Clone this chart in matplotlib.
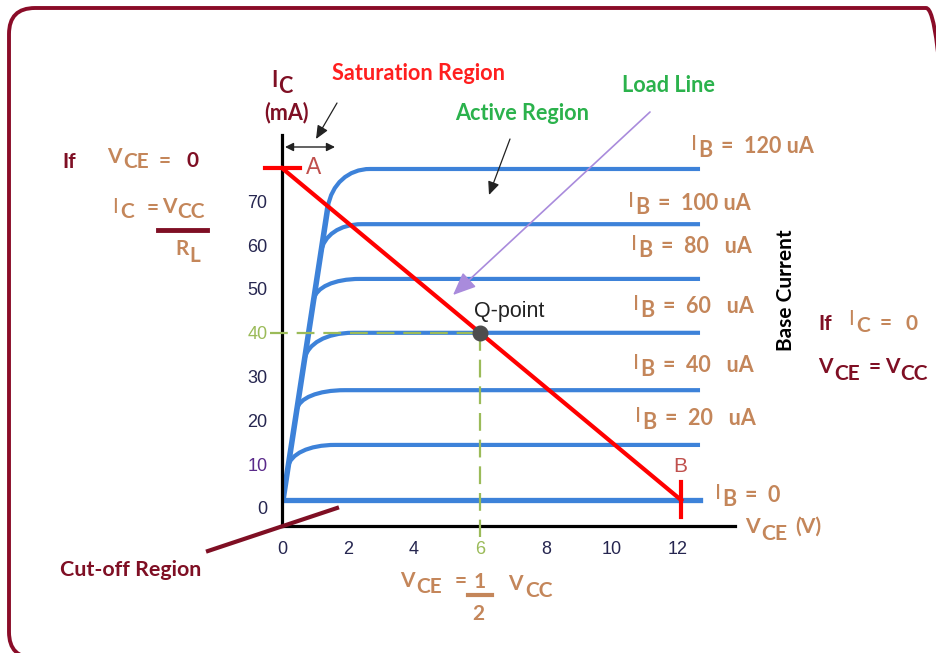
import matplotlib
matplotlib.use("Agg")
import matplotlib.pyplot as plt
from matplotlib.path import Path
from matplotlib.patches import PathPatch, FancyBboxPatch, FancyArrowPatch
from matplotlib.lines import Line2D
from matplotlib.transforms import IdentityTransform

W, H = 937, 653

# values (V in volts, I in mA)
vce_ticks = [0, 2, 4, 6, 8, 10, 12]
ic_ticks = [0, 10, 20, 30, 40, 50, 60, 70]
ib_values = ["120 uA", "100 uA", "80   uA", "60   uA", "40   uA", "20   uA"]
ib_levels = [77.4, 64.8, 52.3, 40.0, 26.9, 14.4]
knee_start_v = [1.39, 1.18, 0.96, 0.68, 0.45, 0.18]
knee_start_i = [68.7, 58.4, 47.5, 33.8, 22.4, 9.3]
knee_v = [1.57, 1.31, 1.06, 0.81, 0.54, 0.29]
flat_start_v = [2.67, 2.42, 2.36, 2.15, 1.91, 1.61]
curve_end_v = 12.67
cutoff_i = 1.8
sat_v = [0.03, 1.39]
sat_i = [1.8, 68.7]
load_v = [0, 12.1]
load_i = [77.6, 1.8]
q_v, q_i = 6, 40

BLUE = "#3d82d9"
MAROON = "#7f0f24"
TAN = "#c4865a"
GREEN = "#2bb24c"
DASH_GREEN = "#9bbb59"
LABEL_FONT = ["Lato", "DejaVu Sans"]
ARIAL = ["Liberation Sans", "DejaVu Sans"]

fig = plt.figure(figsize=(W / 100, H / 100), dpi=100)
R = fig.canvas.get_renderer()


def F(x, y):
    return (x / W, 1 - y / H)


# rounded frame
fig.add_artist(FancyBboxPatch((9, H - 658), 943, 650,
                              boxstyle="round,pad=0,rounding_size=26",
                              transform=IdentityTransform(), fill=False,
                              ec="#8a0c28", lw=2.8))

ax = fig.add_axes([282 / W, 1 - 526 / H, (735 - 282) / W, (526 - 135) / H])
ax.set_xlim(0, 13.73)
ax.set_ylim(-4.11, 85.16)
for s in ["top", "right"]:
    ax.spines[s].set_visible(False)
for s in ["left", "bottom"]:
    ax.spines[s].set_linewidth(2.3)
    ax.spines[s].set_color("black")
ax.set_xticks(vce_ticks)
ax.set_yticks(ic_ticks)
ax.tick_params(length=0, labelsize=13, pad=10.5)
for t in ax.get_xticklabels() + ax.get_yticklabels():
    t.set_family(ARIAL)
    t.set_color("#262650")
ax.get_xticklabels()[3].set_color(DASH_GREEN)
ax.get_yticklabels()[4].set_color(DASH_GREEN)
ax.get_yticklabels()[1].set_color("#5a2a8a")

# characteristic curves: steep rise, rounded knee, flat part
ax.plot(sat_v, sat_i, color=BLUE, lw=4, solid_capstyle="round")
ax.plot([0, curve_end_v], [cutoff_i, cutoff_i], color=BLUE, lw=3.8)
for lvl, sv, si, kv, fv in zip(ib_levels, knee_start_v, knee_start_i, knee_v, flat_start_v):
    c1 = (sv + 0.6 * (kv - sv), si + 0.6 * (lvl - si))
    c2 = (fv + 0.6 * (kv - fv), lvl)
    verts = [(sv, si), c1, c2, (fv, lvl), (curve_end_v, lvl)]
    codes = [Path.MOVETO, Path.CURVE4, Path.CURVE4, Path.CURVE4, Path.LINETO]
    ax.add_patch(PathPatch(Path(verts, codes), fill=False, ec=BLUE, lw=3))

# Q-point guides
ax.plot([-0.36, q_v], [q_i, q_i], color=DASH_GREEN, lw=1.6, dashes=(8, 4), clip_on=False, zorder=3)
ax.plot([q_v, q_v], [q_i, -6.6], color=DASH_GREEN, lw=1.6, dashes=(8, 4), clip_on=False, zorder=3)

# load line with end marks
ax.plot(load_v, load_i, color="#ff0000", lw=3, clip_on=False, zorder=4)
ax.plot([-0.52, 0.55], [load_i[0], load_i[0]], color="#ff0000", lw=3, clip_on=False, zorder=4)
ax.plot([load_v[1], load_v[1]], [5.9, -2.05], color="#ff0000", lw=3, clip_on=False, zorder=4)
ax.plot(q_v, q_i, "o", ms=10.5, color="#4d4d4d", zorder=5)


def put(x, y, s, color, size, weight="bold", va="baseline", ha="left", family=LABEL_FONT, **kw):
    t = fig.text(*F(x, y), s, color=color, fontsize=size, fontweight=weight,
                 va=va, ha=ha, family=family, **kw)
    return x + t.get_window_extent(R).width


def chunks(x, y, parts, size=15.2):
    # parts: (text, dy, weight, color, gap)
    for s, dy, wt, col, gap in parts:
        x = put(x + gap, y + dy, s, col, size, weight=wt)
    return x


def ib_label(x, y, tail):
    chunks(x, y, [("I", -3, "normal", TAN, 0), ("B", 4, "bold", TAN, 1),
                  ("=" + tail, 0, "bold", TAN, 9)], size=15.5)


ib_xy = [(691, 153), (628, 210), (631, 253), (633, 313), (633, 372), (635, 425)]
for (x, y), val in zip(ib_xy, ib_values):
    ib_label(x, y, "  " + val)
ib_label(715, 502, "  0")

# axis titles
chunks(271, 89, [("I", -2, "bold", MAROON, 0), ("C", 4, "bold", MAROON, 1)], size=15.5)
put(287, 113, "(mA)", MAROON, 15.5, va="center", ha="center")
chunks(745, 533, [("V", 0, "bold", TAN, 0), ("CE", 7, "bold", TAN, 2), ("(V)", 0, "bold", TAN, 8)])

# region labels
put(418, 74, "Saturation Region", "#ff1f1f", 15.6, va="center", ha="center")
put(522, 114, "Active Region", GREEN, 15.6, va="center", ha="center")
put(668, 86, "Load Line", GREEN, 15.6, va="center", ha="center")
put(786, 290, "Base Current", "black", 15, va="center", ha="center", rotation=90)
put(131, 570, "Cut-off Region", MAROON, 15.4, va="center", ha="center")
put(509, 312, "Q-point", "#222222", 15.5, weight="normal", va="center", ha="center", family=ARIAL)
put(314, 167, "A", "#c0504d", 16.5, weight="normal", va="center", ha="center", family=ARIAL)
put(680, 467, "B", "#c0504d", 15, weight="normal", va="center", ha="center", family=ARIAL)

# left formulas
put(62, 168, "If", MAROON, 15)
chunks(107, 167, [("V", -4, "bold", TAN, 0), ("CE", 1, "bold", TAN, 2),
                  ("=", 0, "bold", TAN, 10), ("0", 0, "bold", MAROON, 15)], size=15)
chunks(112, 215, [("I", -2, "normal", TAN, 0), ("C", 3, "bold", TAN, 3),
                  ("=", -1, "bold", TAN, 12), ("V", -2, "bold", TAN, 4), ("CC", 3, "bold", TAN, 0)], size=15)
fig.add_artist(Line2D([158 / W, 207 / W], [1 - 229.5 / H] * 2, color=MAROON, lw=3.5))
chunks(175, 256, [("R", -1, "bold", TAN, 0), ("L", 6, "bold", TAN, 1)], size=15)

# right formulas
put(818, 330, "If", MAROON, 15)
chunks(848, 329, [("I", -4, "normal", TAN, 0), ("C", 3, "bold", TAN, 3),
                  ("=", 0, "bold", TAN, 9), ("0", 1, "bold", TAN, 14)], size=15)
chunks(818, 373, [("V", 0, "bold", MAROON, 0), ("CE", 7, "bold", MAROON, 2),
                  ("=", 0, "bold", MAROON, 9), ("V", 0, "bold", MAROON, 4), ("CC", 7, "bold", MAROON, 1)], size=15)

# bottom formula
chunks(400, 588, [("V", -1, "bold", TAN, 0), ("CE", 5, "bold", TAN, 2), ("=", -1, "bold", TAN, 13),
                  ("1", 0, "bold", TAN, 6)], size=15)
put(478, 620, "2", TAN, 15, ha="center")
fig.add_artist(Line2D([468 / W, 492 / W], [1 - 594.5 / H] * 2, color=TAN, lw=3))
chunks(508, 590, [("V", 0, "bold", TAN, 0), ("CC", 7, "bold", TAN, 3)], size=15)

# cut-off pointer
fig.add_artist(Line2D([208 / W, 337 / W], [1 - 551 / H, 1 - 508 / H], color=MAROON, lw=3))


def arrow(p0, p1, style, color, lw, ls="-"):
    fig.add_artist(FancyArrowPatch(F(*p0), F(*p1), arrowstyle=style, color=color, lw=lw,
                                   linestyle=ls, transform=fig.transFigure, shrinkA=0, shrinkB=0))


arrow((285, 147), (335, 147), "<|-|>,head_length=5,head_width=2.5", "#222222", 1.0)
arrow((337, 103), (316, 139), "-|>,head_length=8,head_width=3.5", "#222222", 0.9)
arrow((510, 139), (489, 195), "-|>,head_length=8,head_width=3.5", "#222222", 0.9)
arrow((650, 112), (453, 295), "-|>,head_length=14,head_width=6", "#a98bdc", 1.2)

fig.savefig("out.png", dpi=100)
